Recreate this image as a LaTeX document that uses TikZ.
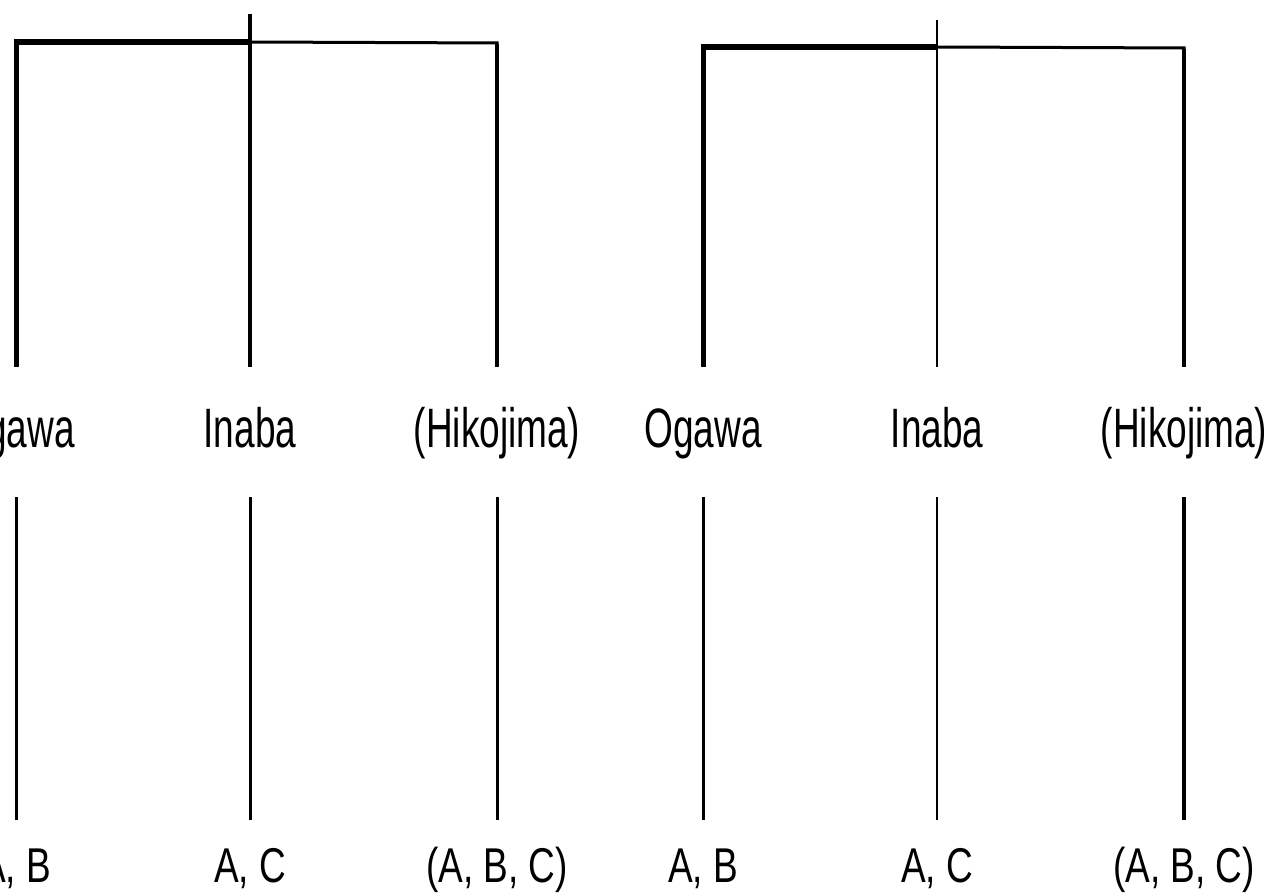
\documentclass[tikz,border=0pt]{standalone}
\usepackage{graphicx}
\usepackage{fontspec}
\setmainfont{Liberation Sans}
\newcommand\tallTop[1]{\scalebox{1}[1.5]{#1}}
\newcommand\tallBot[1]{\scalebox{1}[1.32]{#1}}
\tikzset{
  toplbl/.style={font=\fontsize{37}{40}\selectfont, inner sep=0pt, outer sep=0pt,
    minimum height=130pt, text height=40pt, text depth=10pt},
  botlbl/.style={font=\fontsize{37}{40}\selectfont, inner sep=0pt, outer sep=0pt,
    minimum height=98pt, text height=35pt, text depth=9pt},
  barthick/.style={line width=5.5pt},
  barthin/.style={line width=3pt},
}
\begin{document}
\begin{tikzpicture}[x=1pt,y=-1pt]
\fill[white] (0,0) rectangle (1268,893);
\useasboundingbox (0,0) rectangle (1268,893);

% ---------- left tree ----------
\coordinate (LbarL) at (16,42);
\coordinate (LbarM) at (250,42);
\coordinate (LbarR) at (497,43);
\coordinate (LmidTop) at (250,14);

\node[toplbl] (LOg) at (16,432) {\tallTop{Ogawa}};
\node[toplbl] (LIn) at (250,432) {\tallTop{Inaba}};
\node[toplbl] (LHi) at (497,432) {\tallTop{(Hikojima)}};

\node[botlbl] (LAB) at (16,869) {\tallBot{A, B}};
\node[botlbl] (LAC) at (250,869) {\tallBot{A, C}};
\node[botlbl] (LABC) at (497,869) {\tallBot{(A, B, C)}};

\draw[barthick] ([xshift=-2.5pt]LbarL) -- (LbarM);
\draw[barthin] (LbarM) -- ([xshift=1.5pt]LbarR);
\draw[line width=5pt] ([yshift=-2pt]LbarL) -- (LOg);
\draw[line width=4.5pt] (LmidTop) -- (LIn);
\draw[line width=3.5pt] ([yshift=-1pt]LbarR) -- (LHi);

\draw[line width=3pt] (LOg) -- (LAB);
\draw[line width=3pt] (LIn) -- (LAC);
\draw[line width=3pt] (LHi) -- (LABC);

% ---------- right tree ----------
\coordinate (RbarL) at (703,47);
\coordinate (RbarM) at (937,47);
\coordinate (RbarR) at (1184,48);
\coordinate (RmidTop) at (937,20);

\node[toplbl] (ROg) at (703,432) {\tallTop{Ogawa}};
\node[toplbl] (RIn) at (937,432) {\tallTop{Inaba}};
\node[toplbl] (RHi) at (1184,432) {\tallTop{(Hikojima)}};

\node[botlbl] (RAB) at (703,869) {\tallBot{A, B}};
\node[botlbl] (RAC) at (937,869) {\tallBot{A, C}};
\node[botlbl] (RABC) at (1184,869) {\tallBot{(A, B, C)}};

\draw[barthick] ([xshift=-2.5pt]RbarL) -- (RbarM);
\draw[barthin] (RbarM) -- ([xshift=1.5pt]RbarR);
\draw[line width=5pt] ([yshift=-2pt]RbarL) -- (ROg);
\draw[line width=2.5pt] (RmidTop) -- (RIn);
\draw[line width=3.5pt] ([yshift=-1pt]RbarR) -- (RHi);

\draw[line width=3pt] (ROg) -- (RAB);
\draw[line width=2.5pt] (RIn) -- (RAC);
\draw[line width=4.5pt] (RHi) -- (RABC);
\end{tikzpicture}
\end{document}
